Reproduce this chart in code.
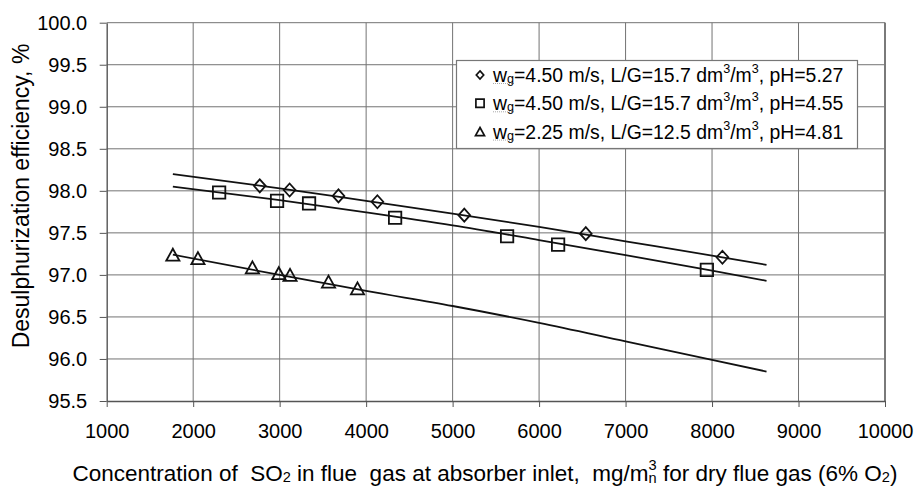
<!DOCTYPE html>
<html>
<head>
<meta charset="utf-8">
<script src="https://cdn.jsdelivr.net/npm/d3@7"></script>
<style>
  html, body { margin: 0; padding: 0; background: #fff; }
  #chart { width: 914px; height: 493px; }
  text { font-family: "Liberation Sans", Arial, sans-serif; fill: #000; }
</style>
</head>
<body>
<div id="chart"></div>
<script>
//tick labels
const xTicks = [1000, 2000, 3000, 4000, 5000, 6000, 7000, 8000, 9000, 10000];
const yTicks = [95.5, 96.0, 96.5, 97.0, 97.5, 98.0, 98.5, 99.0, 99.5, 100.0];

const diamondX = [2770, 3115, 3680, 4130, 5135, 6540, 8120];
const diamondY = [98.06, 98.01, 97.94, 97.87, 97.71, 97.49, 97.21];
const squareX = [2300, 2970, 3340, 4335, 5630, 6220, 7940];
const squareY = [97.98, 97.88, 97.85, 97.68, 97.46, 97.36, 97.06];
const triangleX = [1765, 2055, 2685, 2990, 3120, 3565, 3900];
const triangleY = [97.24, 97.2, 97.09, 97.02, 97.0, 96.92, 96.84];

//trend lines
const trendX = [1765, 3000, 4000, 5000, 6000, 7000, 8000, 8630];
const trendDiamond = [98.2, 98.03, 97.88, 97.73, 97.57, 97.4, 97.23, 97.12];
const trendSquare = [98.05, 97.89, 97.745, 97.59, 97.415, 97.235, 97.05, 96.93];
const trendTriangle = [97.24, 97.0, 96.81, 96.63, 96.43, 96.21, 95.99, 95.85];

//legend entries
const legendSpeed = ["4.50", "4.50", "2.25"];
const legendLG = ["15.7", "15.7", "12.5"];
const legendPH = ["5.27", "4.55", "4.81"];

const width = 914;
const height = 493;
const margin = { top: 22.7, right: 29, bottom: 92, left: 106.7 };

const svg = d3
  .select("#chart")
  .append("svg")
  .attr("width", width)
  .attr("height", height);

const x = d3
  .scaleLinear()
  .domain([1000, 10000])
  .range([margin.left, width - margin.right]);

const y = d3
  .scaleLinear()
  .domain([95.5, 100])
  .range([height - margin.bottom, margin.top]);

//grid lines
svg
  .append("g")
  .selectAll("line")
  .data(xTicks.slice(1))
  .join("line")
  .attr("x1", (d) => x(d))
  .attr("x2", (d) => x(d))
  .attr("y1", y(95.5))
  .attr("y2", y(100))
  .attr("stroke", "#737373")
  .attr("stroke-width", 1);

svg
  .append("g")
  .selectAll("line")
  .data(yTicks.slice(1))
  .join("line")
  .attr("x1", x(1000))
  .attr("x2", x(10000))
  .attr("y1", (d) => y(d))
  .attr("y2", (d) => y(d))
  .attr("stroke", "#737373")
  .attr("stroke-width", 1);

//right border is a bit heavier
svg
  .append("line")
  .attr("x1", x(10000))
  .attr("x2", x(10000))
  .attr("y1", y(95.5))
  .attr("y2", y(100))
  .attr("stroke", "#7a7a7a")
  .attr("stroke-width", 2);

//axes
const xAxis = svg
  .append("g")
  .attr("transform", `translate(0,${y(95.5)})`)
  .call(
    d3
      .axisBottom(x)
      .tickValues(xTicks)
      .tickFormat(d3.format("d"))
      .tickSize(6)
      .tickSizeOuter(0)
      .tickPadding(17)
  );

const yAxis = svg
  .append("g")
  .attr("transform", `translate(${x(1000)},0)`)
  .call(
    d3
      .axisLeft(y)
      .tickValues(yTicks)
      .tickFormat(d3.format(".1f"))
      .tickSize(7)
      .tickSizeOuter(0)
      .tickPadding(12.5)
  );

[xAxis, yAxis].forEach((ax) => {
  ax.select(".domain").attr("stroke", "#555").attr("stroke-width", 1.4);
  ax.selectAll(".tick line").attr("stroke", "#555");
  ax.selectAll(".tick text")
    .attr("font-family", '"Liberation Sans", Arial, sans-serif')
    .attr("font-size", 20)
    .attr("fill", "#000");
});

//trend lines
const line = d3
  .line()
  .x((d) => x(d[0]))
  .y((d) => y(d[1]))
  .curve(d3.curveMonotoneX);

[trendDiamond, trendSquare, trendTriangle].forEach((vals) => {
  svg
    .append("path")
    .attr("d", line(trendX.map((v, i) => [v, vals[i]])))
    .attr("fill", "none")
    .attr("stroke", "#111")
    .attr("stroke-width", 1.8);
});

//marker shapes
const diamondPath = (s) => `M0,${-s}L${s * 0.9},0L0,${s}L${-s * 0.9},0Z`;
const squarePath = (s) => `M${-s},${-s}H${s}V${s}H${-s}Z`;
const trianglePath = (s) => `M0,${-s}L${s * 1.1},${s}H${-s * 1.1}Z`;

const series = [
  { xs: diamondX, ys: diamondY, shape: diamondPath, size: 6.5 },
  { xs: squareX, ys: squareY, shape: squarePath, size: 6.2 },
  { xs: triangleX, ys: triangleY, shape: trianglePath, size: 6 },
];

series.forEach((s) => {
  svg
    .append("g")
    .selectAll("path")
    .data(s.xs.map((v, i) => [v, s.ys[i]]))
    .join("path")
    .attr("transform", (d) => `translate(${x(d[0])},${y(d[1])})`)
    .attr("d", s.shape(s.size))
    .attr("fill", "none")
    .attr("stroke", "#111")
    .attr("stroke-width", 1.8);
});

//legend
const legend = svg.append("g");
legend
  .append("rect")
  .attr("x", 456.5)
  .attr("y", 60.5)
  .attr("width", 401)
  .attr("height", 88)
  .attr("fill", "#fff")
  .attr("stroke", "#777")
  .attr("stroke-width", 1.2);

const legendShapes = [diamondPath, squarePath, trianglePath];
legendSpeed.forEach((sp, i) => {
  const cy = 75 + i * 28.3;
  legend
    .append("path")
    .attr("transform", `translate(480,${cy})`)
    .attr("d", legendShapes[i](4.1))
    .attr("fill", "none")
    .attr("stroke", "#111")
    .attr("stroke-width", 1.7);

  //spell-check style dotted underline under w_g
  legend
    .append("line")
    .attr("x1", 493)
    .attr("x2", 514)
    .attr("y1", cy + 8.5)
    .attr("y2", cy + 8.5)
    .attr("stroke", "#aaa")
    .attr("stroke-width", 1)
    .attr("stroke-dasharray", "1,1");

  const t = legend
    .append("text")
    .attr("x", 493)
    .attr("y", cy)
    .attr("dominant-baseline", "central")
    .attr("font-size", 19.4);
  t.append("tspan").text("w");
  t.append("tspan").attr("font-size", "0.65em").attr("dy", 4).text("g");
  t.append("tspan").attr("dy", -4).text(`=${sp} m/s, L/G=${legendLG[i]} dm`);
  t.append("tspan").attr("font-size", "0.65em").attr("dy", -6).text("3");
  t.append("tspan").attr("dy", 6).text("/m");
  t.append("tspan").attr("font-size", "0.65em").attr("dy", -6).text("3");
  t.append("tspan").attr("dy", 6).text(`, pH=${legendPH[i]}`);
});

//y axis title
svg
  .append("text")
  .attr("transform", "translate(21,196) rotate(-90)")
  .attr("text-anchor", "middle")
  .attr("dominant-baseline", "central")
  .attr("font-size", 23)
  .text("Desulphurization efficiency, %");

//x axis title
const xt = svg
  .append("text")
  .attr("x", 485)
  .attr("y", 473)
  .attr("text-anchor", "middle")
  .attr("dominant-baseline", "central")
  .attr("font-size", 22.5)
  .style("white-space", "pre");
xt.append("tspan").text("Concentration of  SO");
xt.append("tspan").attr("font-size", "0.65em").attr("dy", 4).text("2");
xt.append("tspan").attr("dy", -4).text(" in flue  gas at absorber inlet,  mg/m");
xt.append("tspan").attr("font-size", "0.65em").attr("dy", -8).text("3");
xt.append("tspan").attr("font-size", "0.65em").attr("dx", -8.1).attr("dy", 13).text("n");
xt.append("tspan").attr("dy", -5).text(" for dry flue gas (6% O");
xt.append("tspan").attr("font-size", "0.65em").attr("dy", 4).text("2");
xt.append("tspan").attr("dy", -4).text(")");
</script>
</body>
</html>
